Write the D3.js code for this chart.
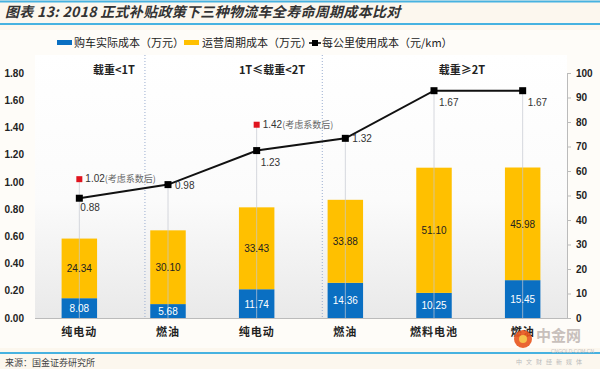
<!DOCTYPE html>
<html><head><meta charset="utf-8">
<script src="https://cdn.jsdelivr.net/npm/d3@7"></script>
<style>body{margin:0;background:#fcf7ee;}svg{display:block;}</style>
</head><body><svg id="c" width="600" height="369"></svg>
<script>
const categories = ["纯电动","燃油","纯电动","燃油","燃料电池","燃油"];
const purchaseCost = [8.08,5.68,11.74,14.36,10.25,15.45];
const operatingCost = [24.34,30.10,33.43,33.88,51.10,45.98];
const costPerKm = [0.88,0.98,1.23,1.32,1.67,1.67];
const adjustedIdx = [0,2];
const adjustedCost = [1.02,1.42];
const leftTicks = [0,0.2,0.4,0.6,0.8,1.0,1.2,1.4,1.6,1.8];
const rightTicks = [0,10,20,30,40,50,60,70,80,90,100];
const groups = ["载重<1T","1T≤载重<2T","载重≥2T"];
const legendNames = ["购车实际成本（万元）","运营周期成本（万元）","每公里使用成本（元/km）"];

const svg = d3.select("#c");
const font = "'Noto Sans CJK SC', Arial, sans-serif";
const L=35,R=567,T=55,B=318;
const x = d3.scaleBand().domain(d3.range(categories.length)).range([L,R]);
const yL = d3.scaleLinear().domain([0,1.8]).range([B,73]);
const yR = d3.scaleLinear().domain([0,100]).range([B,73]);
const bw = x.bandwidth()*0.4;
const cx = i => x(i)+x.bandwidth()/2;

// background gradient
const defs = svg.append("defs");
const g = defs.append("linearGradient").attr("id","bg").attr("x1",0).attr("y1",0).attr("x2",0).attr("y2",1);
g.append("stop").attr("offset","0%").attr("stop-color","#ffffff");
g.append("stop").attr("offset","55%").attr("stop-color","#fbfbfb");
g.append("stop").attr("offset","100%").attr("stop-color","#e9e9e9");
svg.append("rect").attr("x",0).attr("y",30).attr("width",600).attr("height",318).attr("fill","#fefcf8");
svg.append("rect").attr("x",L).attr("y",T).attr("width",R-L).attr("height",B-T).attr("fill","url(#bg)");

// title and rules
svg.append("line").attr("x1",0).attr("x2",600).attr("y1",1.5).attr("y2",1.5).attr("stroke","#47b2e0").attr("stroke-width",2);
svg.append("text").attr("x",5).attr("y",17).attr("font-family",font).attr("font-size",14).attr("font-weight","bold").attr("font-style","italic").attr("fill","#333").attr("letter-spacing",0.3)
  .text("图表 13: 2018 正式补贴政策下三种物流车全寿命周期成本比对");
svg.append("line").attr("x1",0).attr("x2",600).attr("y1",24).attr("y2",24).attr("stroke","#47b2e0").attr("stroke-width",2);
svg.append("line").attr("x1",0).attr("x2",600).attr("y1",353).attr("y2",353).attr("stroke","#47b2e0").attr("stroke-width",2);
svg.append("text").attr("x",5).attr("y",366).attr("font-family",font).attr("font-size",9).attr("fill","#444").text("来源：国金证券研究所");

// legend
const lg = svg.append("g").attr("font-family",font).attr("font-size",11).attr("fill","#222");
lg.append("rect").attr("x",57).attr("y",40).attr("width",15).attr("height",5).attr("fill","#0a6fc2");
lg.append("text").attr("x",74).attr("y",47).text(legendNames[0]);
lg.append("rect").attr("x",184).attr("y",40).attr("width",15).attr("height",5).attr("fill","#ffc000");
lg.append("text").attr("x",202).attr("y",47).text(legendNames[1]);
lg.append("line").attr("x1",309).attr("x2",321).attr("y1",43).attr("y2",43).attr("stroke","#000").attr("stroke-width",1.5);
lg.append("rect").attr("x",312).attr("y",40).attr("width",6).attr("height",6).attr("fill","#000");
lg.append("text").attr("x",322).attr("y",47).text(legendNames[2]);

// separators
const sepX = [x(1)+x.bandwidth()*0.24, x(3)+x.bandwidth()*0.24];
sepX.forEach(s=>svg.append("line").attr("x1",s).attr("x2",s).attr("y1",T).attr("y2",B).attr("stroke","#9aaed0").attr("stroke-width",1).attr("stroke-dasharray","1,2"));
const groupX = [114,272,462];
groups.forEach((t,i)=>svg.append("text").attr("x",groupX[i]).attr("y",74).attr("text-anchor","middle").attr("font-family",font).attr("font-size",11).attr("font-weight","bold").attr("fill","#222").text(t));

// bars
const bars = svg.append("g");
categories.forEach((c,i)=>{
  const p = purchaseCost[i], o = operatingCost[i];
  bars.append("rect").attr("x",cx(i)-bw/2).attr("y",yR(p)).attr("width",bw).attr("height",yR(0)-yR(p)).attr("fill","#0a6fc2");
  bars.append("rect").attr("x",cx(i)-bw/2).attr("y",yR(p+o)).attr("width",bw).attr("height",yR(p)-yR(p+o)).attr("fill","#ffc000");
});

// drop lines
categories.forEach((c,i)=>{
  const ai = adjustedIdx.indexOf(i);
  const top = ai>=0 ? yL(adjustedCost[ai]) : yL(costPerKm[i]);
  svg.append("line").attr("x1",cx(i)).attr("x2",cx(i)).attr("y1",top).attr("y2",B).attr("stroke","#c4c8d0").attr("stroke-opacity",0.7).attr("stroke-width",1);
});

// bar labels
categories.forEach((c,i)=>{
  const p = purchaseCost[i], o = operatingCost[i];
  svg.append("text").attr("x",cx(i)).attr("y",(yR(0)+yR(p))/2+4).attr("text-anchor","middle").attr("font-family","Arial, sans-serif").attr("font-size",10).attr("fill","#fff").text(p.toFixed(2));
  svg.append("text").attr("x",cx(i)).attr("y",(yR(p)+yR(p+o))/2+4).attr("text-anchor","middle").attr("font-family","Arial, sans-serif").attr("font-size",10).attr("fill","#222").text(o.toFixed(2));
});

// axes
svg.append("line").attr("x1",L).attr("x2",R).attr("y1",B+0.5).attr("y2",B+0.5).attr("stroke","#bbb");
const la = svg.append("g").attr("transform",`translate(${L-8},0)`)
  .call(d3.axisLeft(yL).tickValues(leftTicks).tickFormat(d3.format(".2f")).tickSize(0));
la.select(".domain").remove();
la.selectAll("text").attr("font-family","Arial, sans-serif").attr("font-size",10).attr("font-weight","bold").attr("fill","#222");
const ra = svg.append("g").attr("transform",`translate(${R},0)`)
  .call(d3.axisRight(yR).tickValues(rightTicks).tickSize(4).tickPadding(5));
ra.select(".domain").attr("stroke","#bbb");
ra.selectAll(".tick line").attr("stroke","#bbb");
ra.selectAll("text").attr("font-family","Arial, sans-serif").attr("font-size",10).attr("font-weight","bold").attr("fill","#222");

// category labels
categories.forEach((c,i)=>svg.append("text").attr("x",cx(i)).attr("y",336).attr("text-anchor","middle").attr("font-family",font).attr("font-size",11).attr("font-weight","bold").attr("fill","#222").attr("letter-spacing",1).text(c));

// line
const line = d3.line().x((d,i)=>cx(i)).y(d=>yL(d));
svg.append("path").datum(costPerKm).attr("d",line).attr("fill","none").attr("stroke","#111").attr("stroke-width",2);
costPerKm.forEach((v,i)=>svg.append("rect").attr("x",cx(i)-3.5).attr("y",yL(v)-3.5).attr("width",7).attr("height",7).attr("fill","#000"));
const lblOff = [[1,13],[7,4],[4,15],[7,4],[5,15],[5,15]];
costPerKm.forEach((v,i)=>svg.append("text").attr("x",cx(i)+lblOff[i][0]).attr("y",yL(v)+lblOff[i][1]).attr("font-family","Arial, sans-serif").attr("font-size",10).attr("fill","#333").text(v.toFixed(2)));

// adjusted markers
adjustedIdx.forEach((idx,k)=>{
  const yy = yL(adjustedCost[k]);
  svg.append("rect").attr("x",cx(idx)-3).attr("y",yy-3).attr("width",6).attr("height",6).attr("fill","#e0141e");
  const t = svg.append("text").attr("x",cx(idx)+6).attr("y",yy+3).attr("font-family","Arial, sans-serif").attr("font-size",10).attr("fill","#333");
  t.append("tspan").text(adjustedCost[k].toFixed(2));
  t.append("tspan").attr("font-family",font).attr("font-size",9).attr("fill","#666").text("(考虑系数后)");
});

// watermark
const wm = svg.append("g");
wm.append("circle").attr("cx",523).attr("cy",339).attr("r",9).attr("fill","#e8541c").attr("opacity",0.9);
wm.append("circle").attr("cx",523).attr("cy",339).attr("r",4).attr("fill","#f6c04a");
wm.append("text").attr("x",536).attr("y",341).attr("font-family",font).attr("font-size",15).attr("font-weight","bold").attr("fill","#c8c0bc").text("中金网");
wm.append("text").attr("x",551).attr("y",353).attr("font-family","Arial").attr("font-size",5).attr("fill","#c8c0bc").text("CNGOLD.COM.CN");
wm.append("text").attr("x",516).attr("y",364).attr("font-family",font).attr("font-size",6).attr("fill","#bbb").attr("letter-spacing",4).text("中文财经新媒体");
</script></body></html>
